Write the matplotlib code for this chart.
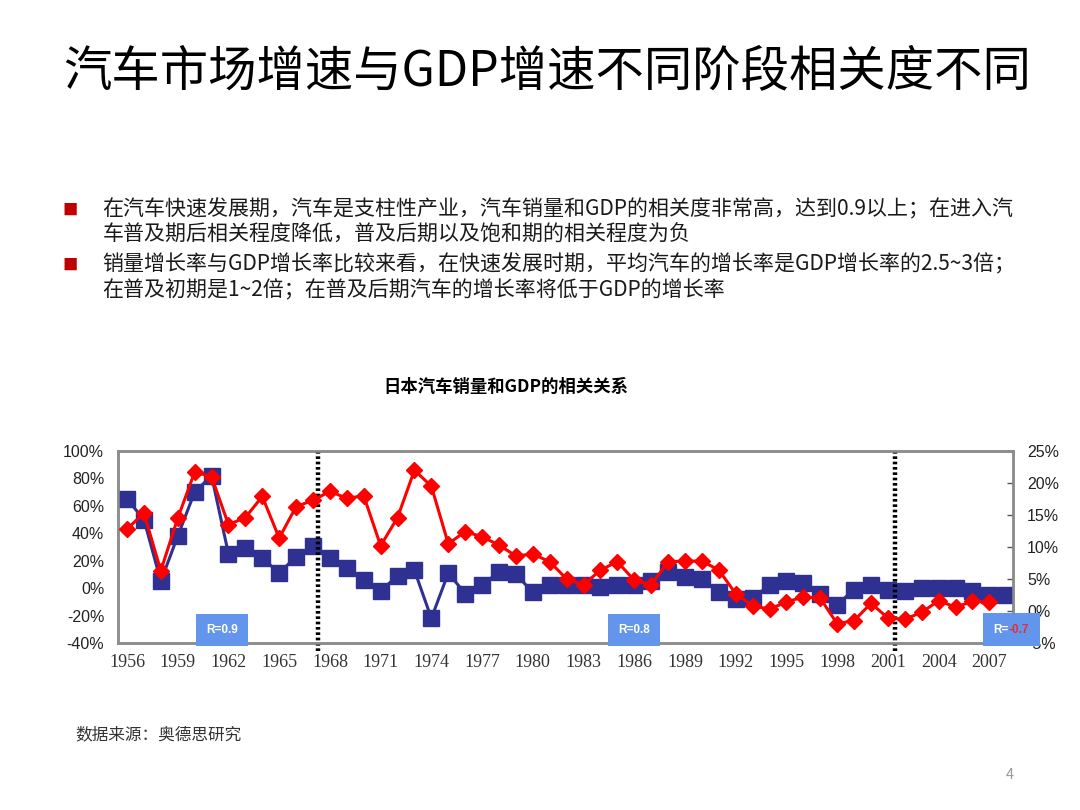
import numpy as np
import matplotlib
matplotlib.use("Agg")
import matplotlib.pyplot as plt
from matplotlib.ticker import FuncFormatter, FixedLocator
from matplotlib.offsetbox import TextArea, HPacker, AnnotationBbox

plt.rcParams['font.family'] = ['Noto Sans CJK SC', 'DejaVu Sans']

# data (percent)
years_sales = list(range(1956, 2009))
car_sales_growth = [
    65, 50, 5, 38, 70, 82, 25, 29, 22, 11,
    23, 31, 22, 15, 6, -2, 9, 13, -22, 11,
    -4, 2, 12, 10, -3, 2, 2, 2, 1, 2,
    2, 5, 12, 8, 7, -3, -8, -7, 2, 5,
    4, -4, -12, -1, 2, -1, -2, 0, 0, 0,
    -2, -5, -5,
]
years_gdp = list(range(1956, 2008))
gdp_growth = [
    12.8, 15.3, 6.3, 14.5, 21.7, 21.0, 13.5, 14.6, 17.9, 11.4,
    16.3, 17.3, 18.7, 17.6, 18.0, 10.2, 14.6, 22.0, 19.5, 10.5,
    12.4, 11.6, 10.3, 8.6, 8.9, 7.7, 5.0, 4.1, 6.4, 7.7,
    4.8, 4.1, 7.7, 7.8, 7.8, 6.4, 2.7, 0.8, 0.3, 1.4,
    2.2, 2.0, -2.0, -1.5, 1.2, -1.1, -1.3, -0.2, 1.6, 0.6,
    1.5, 1.4,
]
xtick_years = list(range(1956, 2008, 3))
left_ticks = [100, 80, 60, 40, 20, 0, -20, -40]
right_ticks = [25, 20, 15, 10, 5, 0, -5]
stage_breaks = [1967.3, 2001.4]
r_labels = [("R=0.9", 1961.6), ("R=0.8", 1986.0)]

title = "汽车市场增速与GDP增速不同阶段相关度不同"
bullets = [
    ["在汽车快速发展期，汽车是支柱性产业，汽车销量和GDP的相关度非常高，达到0.9以上；在进入汽",
     "车普及期后相关程度降低，普及后期以及饱和期的相关程度为负"],
    ["销量增长率与GDP增长率比较来看，在快速发展时期，平均汽车的增长率是GDP增长率的2.5~3倍；",
     "在普及初期是1~2倍；在普及后期汽车的增长率将低于GDP的增长率"],
]
chart_title = "日本汽车销量和GDP的相关关系"
source = "数据来源：奥德思研究"

fig = plt.figure(figsize=(10.8, 8.1), dpi=100)
fig.patch.set_facecolor("white")

# slide header and bullets
fig.text(0.507, 0.912, title, ha="center", va="center", fontsize=34.8, color="black")
line_y = [[0.741, 0.710], [0.673, 0.642]]
for lines, ys in zip(bullets, line_y):
    fig.text(0.065, ys[0], "■", ha="center", va="center", fontsize=11, color="#C00000")
    for txt, y in zip(lines, ys):
        fig.text(0.095, y, txt, ha="left", va="center", fontsize=15.1, color="#1a1a1a")

fig.text(0.468, 0.522, chart_title, ha="center", va="center",
         fontsize=12.5, fontweight="bold", color="black")
fig.text(0.07, 0.093, source, ha="left", va="center", fontsize=12, color="#333333")
fig.text(0.935, 0.043, "4", ha="center", va="center", fontsize=10.5, color="#999999")

# chart
ax = fig.add_axes([0.1093, 0.2062, 0.8287, 0.237])
ax2 = ax.twinx()

blue = "#2E3192"
red = "#FF0000"
ax.plot(years_sales, car_sales_growth, color=blue, lw=2.2, marker="s",
        markersize=11.5, markerfacecolor=blue, markeredgecolor=blue, zorder=3)
ax2.plot(years_gdp, gdp_growth, color=red, lw=2.2, marker="D",
         markersize=8.5, markerfacecolor=red, markeredgecolor=red, zorder=3)

ax.set_xlim(1955.47, 2008.4)
ax.set_ylim(-40, 100)
ax2.set_ylim(-5, 25)

ax.yaxis.set_major_locator(FixedLocator(left_ticks))
ax.yaxis.set_major_formatter(FuncFormatter(lambda v, p: f"{v:.0f}%"))
ax2.yaxis.set_major_locator(FixedLocator(right_ticks))
ax2.yaxis.set_major_formatter(FuncFormatter(lambda v, p: f"{v:.0f}%"))
ax.set_xticks(xtick_years)
ax.set_xticklabels([str(y) for y in xtick_years])

for lab in ax.get_xticklabels():
    lab.set_fontfamily("Liberation Serif")
    lab.set_fontsize(13)
    lab.set_color("#333333")
for lab in ax.get_yticklabels() + ax2.get_yticklabels():
    lab.set_fontfamily("Liberation Sans")
    lab.set_fontsize(11.5)
    lab.set_color("#222222")

ax.tick_params(axis="x", length=0, pad=8)
ax.tick_params(axis="y", length=0, pad=10)
ax2.tick_params(axis="y", direction="in", length=4, width=1, color="#555555", pad=10)

for a in (ax, ax2):
    for sp in a.spines.values():
        sp.set_color("#8c8c8c")
        sp.set_linewidth(1.8)

for xb in stage_breaks:
    ax.axvline(xb, ymin=-0.04, ymax=1.0, color="black", lw=3.2,
               linestyle=(0, (0.6, 0.6)), clip_on=False, zorder=4)

box_style = dict(boxstyle="square,pad=0.85", fc="#6495ED", ec="none")
for lab, xc in r_labels:
    ax2.text(xc, -3.0, lab, ha="center", va="center", fontsize=8.5,
             fontweight="bold", color="white", family="Liberation Sans",
             bbox=box_style, zorder=6)

packed = HPacker(children=[
    TextArea("R=", textprops=dict(color="white", fontsize=8.5, fontweight="bold",
                                  family="Liberation Sans")),
    TextArea("-0.7", textprops=dict(color="#E03030", fontsize=8.5, fontweight="bold",
                                    family="Liberation Sans")),
], align="center", pad=0, sep=0)
ab = AnnotationBbox(packed, (2008.3, -2.9), xycoords="data", frameon=True,
                    pad=0.75, fontsize=10, box_alignment=(0.5, 0.5), annotation_clip=False,
                    bboxprops=dict(boxstyle="square,pad=0.75", fc="#6495ED", ec="none"),
                    zorder=7)
ax2.add_artist(ab)

fig.savefig("out.png", dpi=100, facecolor="white")
